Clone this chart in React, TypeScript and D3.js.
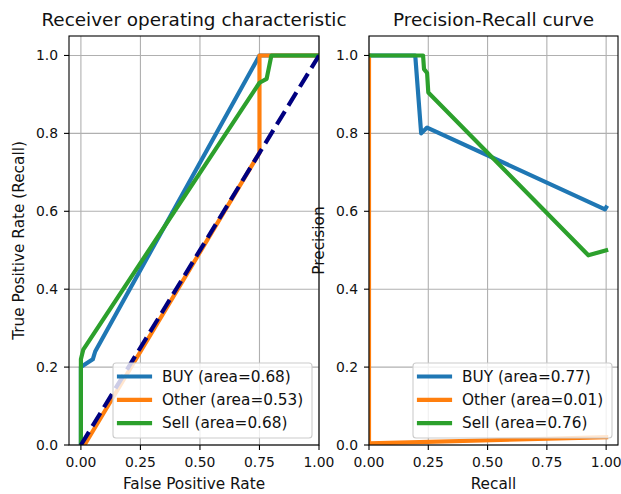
import { line, scaleLinear } from 'd3'

const width = 621
const height = 494

// ROC curves
const rocBuyFpr = [0, 0, 0.05, 0.06, 0.75, 1]
const rocBuyTpr = [0, 0.2, 0.22, 0.24, 1, 1]
const rocOtherFpr = [0.015, 0.75, 0.75, 1]
const rocOtherTpr = [0, 0.75, 1, 1]
const rocSellFpr = [0, 0, 0.01, 0.75, 0.78, 0.8, 1]
const rocSellTpr = [0, 0.22, 0.245, 0.93, 0.94, 1, 1]
const rocAuc = [0.68, 0.53, 0.68]

// precision-recall curves
const prBuyRecall = [0, 0.195, 0.22, 0.245, 0.995, 1]
const prBuyPrecision = [1, 1, 0.8, 0.815, 0.605, 0.61]
const prOtherRecall = [0, 0, 1]
const prOtherPrecision = [1, 0.004, 0.02]
const prSellRecall = [0, 0.228, 0.232, 0.245, 0.25, 0.925, 1]
const prSellPrecision = [1, 1, 0.965, 0.955, 0.905, 0.487, 0.5]
const prAuc = [0.77, 0.01, 0.76]

const classNames = ['BUY', 'Other', 'Sell']
const colors = ['#1f77b4', '#ff7f0e', '#2ca02c']
const xTicks = [0, 0.25, 0.5, 0.75, 1]
const yTicks = [0, 0.2, 0.4, 0.6, 0.8, 1]

const top = 36
const bottom = 445
const font = 'DejaVu Sans, sans-serif'
const lw = 4.17
const tickSize = 13.9
const labelSize = 15.3
const titleSize = 18.4

const zip = (xs: number[], ys: number[]) => xs.map((x, i) => [x, ys[i]] as [number, number])

const Panel = ({ id, x0, x1, xDomain, title, xLabel, yLabel, curves, auc, diagonal }: any) => {
  const xScale = scaleLinear().domain(xDomain).range([x0, x1])
  const yScale = scaleLinear().domain([0, 1.05]).range([bottom, top])
  const path = line<[number, number]>()
    .x((d) => xScale(d[0]))
    .y((d) => yScale(d[1]))
  const cx = (x0 + x1) / 2
  const lx = x0 + 44
  const ly = 363
  return (
    <g>
      <defs>
        <clipPath id={id}>
          <rect x={x0} y={top} width={x1 - x0} height={bottom - top} />
        </clipPath>
      </defs>
      <rect x={x0} y={top} width={x1 - x0} height={bottom - top} fill="white" />
      {xTicks.map((t) => (
        <line key={'gx' + t} x1={xScale(t)} x2={xScale(t)} y1={top} y2={bottom} stroke="#b0b0b0" strokeWidth={1.1} />
      ))}
      {yTicks.map((t) => (
        <line key={'gy' + t} x1={x0} x2={x1} y1={yScale(t)} y2={yScale(t)} stroke="#b0b0b0" strokeWidth={1.1} />
      ))}
      <g clipPath={`url(#${id})`}>
        {curves.map((c: [number, number][], i: number) => (
          <path key={i} d={path(c) || ''} fill="none" stroke={colors[i]} strokeWidth={lw} strokeLinejoin="round" strokeLinecap="square" />
        ))}
        {diagonal && (
          <path d={path([[0, 0], [1, 1]]) || ''} fill="none" stroke="navy" strokeWidth={lw} strokeDasharray="15.4,6.7" />
        )}
      </g>
      <rect x={x0} y={top} width={x1 - x0} height={bottom - top} fill="none" stroke="black" strokeWidth={1.1} />
      {xTicks.map((t) => (
        <g key={'tx' + t}>
          <line x1={xScale(t)} x2={xScale(t)} y1={bottom} y2={bottom + 5} stroke="black" strokeWidth={1.1} />
          <text x={xScale(t)} y={bottom + 22} textAnchor="middle" fontSize={tickSize} fontFamily={font} fill="#111">
            {t.toFixed(2)}
          </text>
        </g>
      ))}
      {yTicks.map((t) => (
        <g key={'ty' + t}>
          <line x1={x0 - 5} x2={x0} y1={yScale(t)} y2={yScale(t)} stroke="black" strokeWidth={1.1} />
          <text x={x0 - 11} y={yScale(t)} dy="0.35em" textAnchor="end" fontSize={tickSize} fontFamily={font} fill="#111">
            {t.toFixed(1)}
          </text>
        </g>
      ))}
      <text x={cx} y={26} textAnchor="middle" fontSize={titleSize} fontFamily={font} fill="#111">
        {title}
      </text>
      <text x={cx} y={489} textAnchor="middle" fontSize={labelSize} fontFamily={font} fill="#111">
        {xLabel}
      </text>
      <text
        transform={`translate(${x0 - 45},${(top + bottom) / 2}) rotate(-90)`}
        textAnchor="middle"
        fontSize={labelSize}
        fontFamily={font}
        fill="#111"
      >
        {yLabel}
      </text>
      <rect x={lx} y={ly} width={199} height={75} rx={3} fill="white" fillOpacity={0.8} stroke="#cccccc" strokeWidth={1.1} />
      {classNames.map((name, i) => {
        const yy = ly + 13.5 + i * 23.3
        return (
          <g key={name}>
            <line x1={lx + 6} x2={lx + 37} y1={yy} y2={yy} stroke={colors[i]} strokeWidth={lw} strokeLinecap="square" />
            <text x={lx + 49} y={yy} dy="0.35em" fontSize={labelSize} fontFamily={font} fill="#111">
              {`${name} (area=${auc[i].toFixed(2)})`}
            </text>
          </g>
        )
      })}
    </g>
  )
}

const App = () => {
  const rocCurves = [zip(rocBuyFpr, rocBuyTpr), zip(rocOtherFpr, rocOtherTpr), zip(rocSellFpr, rocSellTpr)]
  const prCurves = [
    zip(prBuyRecall, prBuyPrecision),
    zip(prOtherRecall, prOtherPrecision),
    zip(prSellRecall, prSellPrecision),
  ]
  return (
    <svg width={width} height={height} style={{ position: 'absolute', left: 0, top: 0, background: 'white' }}>
      <rect width={width} height={height} fill="white" />
      <Panel
        id="clipRoc"
        x0={69}
        x1={319}
        xDomain={[-0.05, 1.0]}
        title="Receiver operating characteristic"
        xLabel="False Positive Rate"
        yLabel="True Positive Rate (Recall)"
        curves={rocCurves}
        auc={rocAuc}
        diagonal
      />
      <Panel
        id="clipPr"
        x0={369}
        x1={618}
        xDomain={[0, 1.05]}
        title="Precision-Recall curve"
        xLabel="Recall"
        yLabel="Precision"
        curves={prCurves}
        auc={prAuc}
      />
    </svg>
  )
}

export default App
